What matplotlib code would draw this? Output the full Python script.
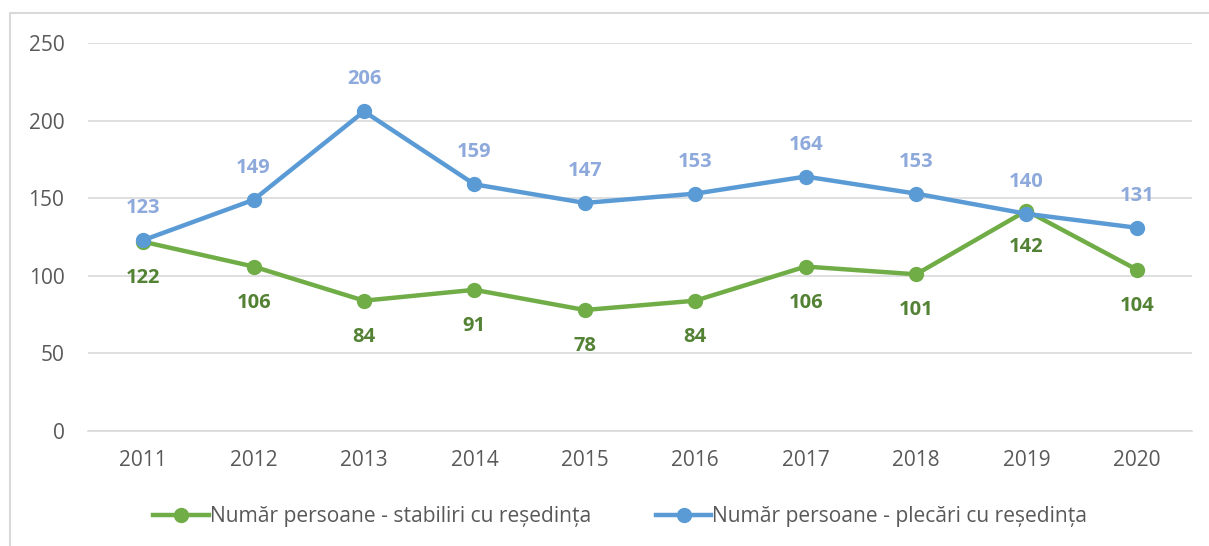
import matplotlib.pyplot as plt
import matplotlib.patches as mpatches
import numpy as np

years = ['2011', '2012', '2013', '2014', '2015', '2016', '2017', '2018', '2019', '2020']
stabiliri = [122, 106, 84, 91, 78, 84, 106, 101, 142, 104]
plecari = [123, 149, 206, 159, 147, 153, 164, 153, 140, 131]
names = ['Număr persoane - stabiliri cu reședința', 'Număr persoane - plecări cu reședința']

plt.rcParams['font.family'] = ['Open Sans', 'DejaVu Sans']

fig = plt.figure(figsize=(12.09, 5.46), dpi=100)
ax = fig.add_axes([0.0728, 0.2106, 0.9132, 0.7104])
x = np.arange(len(years))

green, blue = '#70AD47', '#5B9BD5'
ax.plot(x, stabiliri, color=green, lw=3.2, marker='o', ms=10, label=names[0], zorder=3)
ax.plot(x, plecari, color=blue, lw=3.2, marker='o', ms=10, label=names[1], zorder=4)

for i in x:
    ax.annotate(str(plecari[i]), (i, plecari[i]), xytext=(0, 23), textcoords='offset points',
                ha='center', va='center', color='#8EA9DB', fontsize=14.5, fontweight='bold')
    ax.annotate(str(stabiliri[i]), (i, stabiliri[i]), xytext=(0, -26), textcoords='offset points',
                ha='center', va='center', color='#548235', fontsize=14.5, fontweight='bold')

ax.set_xlim(-0.5, len(years) - 0.5)
ax.set_ylim(0, 250)
ax.set_yticks(range(0, 251, 50))
ax.set_xticks(x)
ax.set_xticklabels(years)
ax.grid(axis='y', color='#D9D9D9', lw=1.2)
ax.set_axisbelow(True)
for s in ['top', 'right', 'left']:
    ax.spines[s].set_visible(False)
ax.spines['bottom'].set_color('#D9D9D9')
ax.spines['bottom'].set_linewidth(1.2)
ax.tick_params(length=0, labelsize=15, colors='#595959')
ax.tick_params(axis='x', pad=14)
ax.tick_params(axis='y', pad=17)

leg = fig.legend(loc='center', bbox_to_anchor=(0.513, 0.054), ncol=2, frameon=False,
                 fontsize=15.1, handlelength=2.65, columnspacing=3.1, handletextpad=0.05)
for t in leg.get_texts():
    t.set_color('#595959')

# chart border (only left/top visible in the reference crop)
fig.add_artist(mpatches.Rectangle((10 / 1209, -0.1), 1.5, 1.1 - 13 / 546, transform=fig.transFigure,
                                  fill=False, edgecolor='#D9D9D9', lw=1.5))

fig.savefig('out.png', dpi=100)
